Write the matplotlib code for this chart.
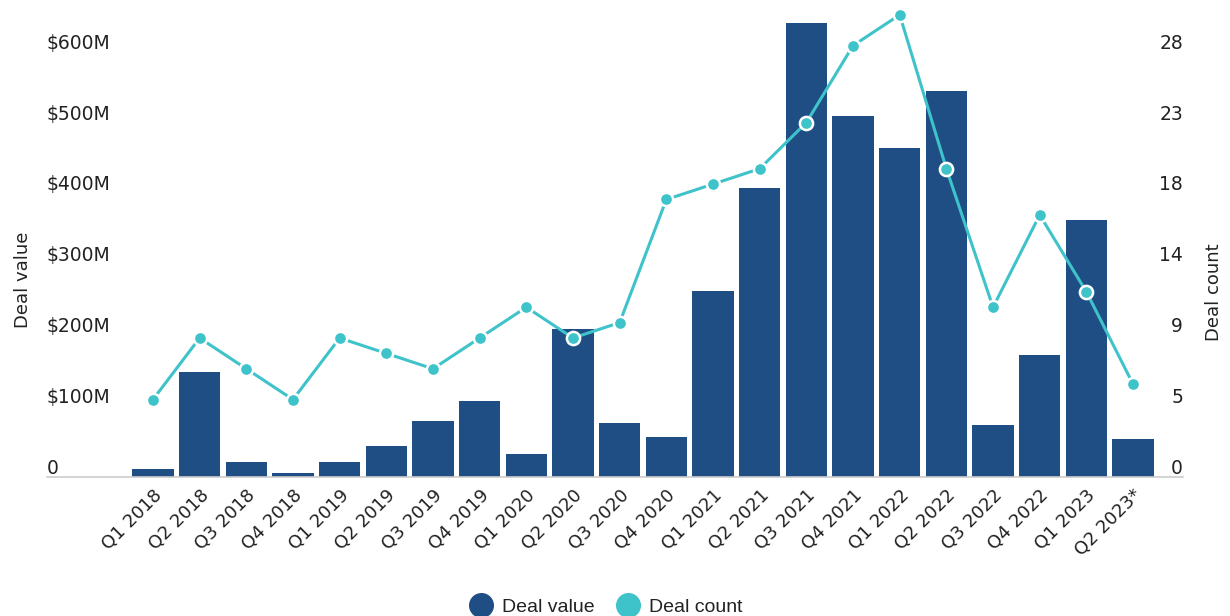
import matplotlib
matplotlib.use('Agg')
import matplotlib.pyplot as plt
from matplotlib.transforms import ScaledTranslation
from matplotlib.lines import Line2D
import numpy as np

quarters = ['Q1 2018', 'Q2 2018', 'Q3 2018', 'Q4 2018',
            'Q1 2019', 'Q2 2019', 'Q3 2019', 'Q4 2019',
            'Q1 2020', 'Q2 2020', 'Q3 2020', 'Q4 2020',
            'Q1 2021', 'Q2 2021', 'Q3 2021', 'Q4 2021',
            'Q1 2022', 'Q2 2022', 'Q3 2022', 'Q4 2022',
            'Q1 2023', 'Q2 2023*']
deal_value_m = [10, 147, 20, 4.5, 20, 43, 79, 107, 32, 208, 75, 56,
                262, 408, 641, 509, 464, 545, 73, 171, 363, 53]
deal_count = [5, 9, 7, 5, 9, 8, 7, 9, 11, 9, 10, 18,
              19, 20, 23, 28, 30, 20, 11, 17, 12, 6]

value_ticks_m = [0, 100, 200, 300, 400, 500, 600]
value_tick_labels = ['0', '$100M', '$200M', '$300M', '$400M', '$500M', '$600M']
count_tick_labels = ['0', '5', '9', '14', '18', '23', '28']
count_per_million = 0.046   # right axis is aligned to the left axis gridlines

BAR = '#1f4e85'
LINE = '#3fc3cb'
TXT = '#222222'

fig = plt.figure(figsize=(12.3, 6.16), dpi=100)
ax = fig.add_axes([47 / 1230, 139.5 / 616, 1136 / 1230, 466.5 / 616])
x = np.arange(len(quarters))
ax.bar(x, deal_value_m, width=0.89, color=BAR, zorder=2)
ax.set_xlim(-2.27, 22.07)
vmax = 659
ax.set_ylim(0, vmax)

for s in ['top', 'left', 'right']:
    ax.spines[s].set_visible(False)
ax.spines['bottom'].set_color('#cccccc')
ax.spines['bottom'].set_linewidth(1.2)

ax.set_xticks(x)
ax.set_xticklabels(quarters, rotation=45, ha='right', rotation_mode='anchor',
                   fontsize=13, color=TXT)
ax.tick_params(axis='x', length=0, pad=7)

ax.set_yticks(value_ticks_m)
ax.set_yticklabels(value_tick_labels, fontsize=13.5, color=TXT)
ax.tick_params(axis='y', length=0, pad=0)
ax.set_ylabel('Deal value', fontsize=13, color=TXT)
ax.yaxis.set_label_coords(-0.0132, 0.421)

ax2 = ax.twinx()
ax2.set_ylim(0, vmax * count_per_million)
ax2.set_yticks([v * count_per_million for v in value_ticks_m])
ax2.set_yticklabels(count_tick_labels, fontsize=13.5, color=TXT)
ax2.tick_params(axis='y', length=0, pad=0)
for s in ax2.spines.values():
    s.set_visible(False)
ax2.plot(x, deal_count, color=LINE, lw=2.2, marker='o', ms=9.5,
         mfc=LINE, mec='white', mew=1.8, zorder=3, solid_capstyle='round')
ax2.set_ylabel('Deal count', fontsize=13, color=TXT)
ax2.yaxis.set_label_coords(1.019, 0.395)

off = ScaledTranslation(0, 0.105, fig.dpi_scale_trans)
for lab in ax.get_yticklabels():
    lab.set_horizontalalignment('left')
    lab.set_transform(lab.get_transform() + off)
for lab in ax2.get_yticklabels():
    lab.set_horizontalalignment('right')
    lab.set_transform(lab.get_transform() + off)

handles = [
    Line2D([], [], marker='o', ls='', ms=17, mfc=BAR, mec=BAR, label='Deal value'),
    Line2D([], [], marker='o', ls='', ms=17, mfc=LINE, mec=LINE, label='Deal count'),
]
fig.legend(handles=handles, loc='center', bbox_to_anchor=(607 / 1230, 1 - 607 / 616),
           ncol=2, frameon=False, prop={'family': 'Liberation Sans', 'size': 14},
           handletextpad=0.6, columnspacing=1.2, handlelength=1.0, labelcolor=TXT)

fig.savefig('out.png', dpi=100)
